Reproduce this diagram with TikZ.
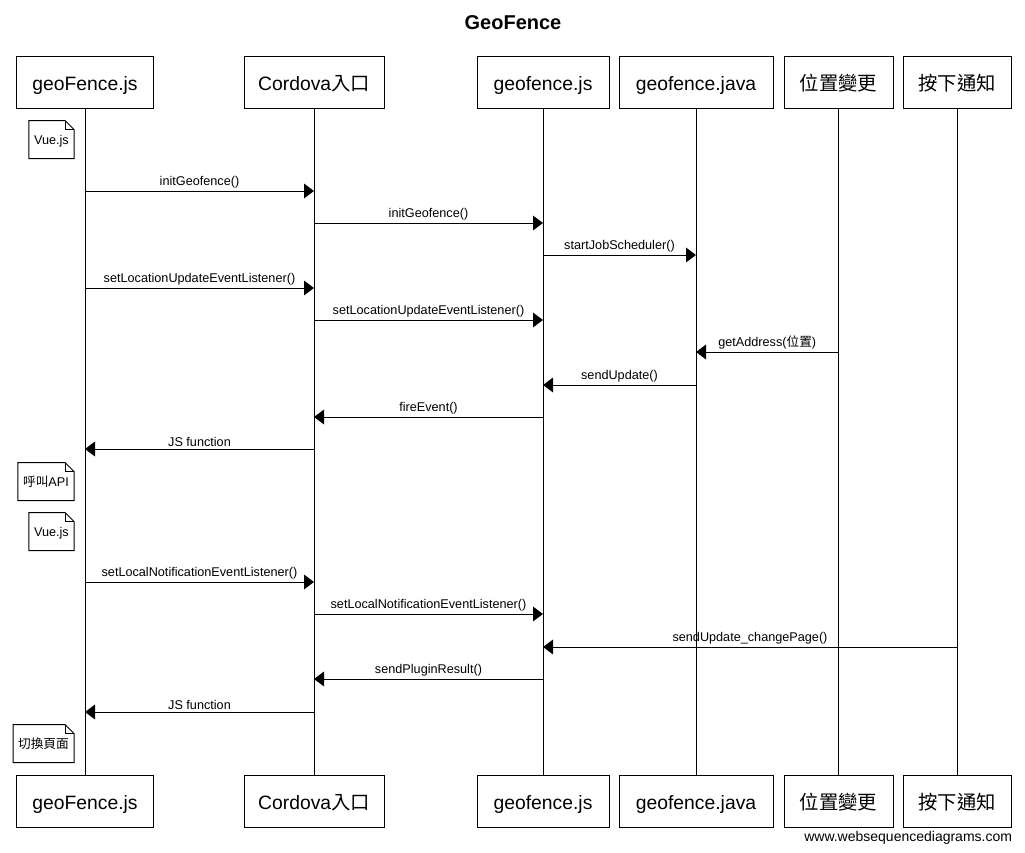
\documentclass[tikz,border=0pt]{standalone}
\usepackage{fontspec}
\setmainfont{Liberation Sans}
\newfontfamily\cjk{Noto Sans CJK TC}
\usetikzlibrary{arrows.meta}

\tikzset{
  actor/.style={draw, minimum height=39pt, inner sep=0pt, text height=12pt, text depth=0pt,
    font=\fontsize{14.5}{16}\selectfont},
  msg/.style={-{Triangle[length=7.5pt, width=11pt]}},
  lbl/.style={above, inner sep=1.5pt, font=\fontsize{9.5}{11}\selectfont},
  notebox/.style={anchor=east, minimum height=27.75pt, inner xsep=3.5pt, text height=6.8pt, text depth=0pt,
    font=\fontsize{9.5}{11}\selectfont},
}

% folded corner of a note
\newcommand\notefold[1]{
  \draw (#1.north west) -- ([xshift=-6.75pt]#1.north east) -- ([yshift=-6.75pt]#1.north east)
    -- (#1.south east) -- (#1.south west) -- cycle;
  \draw ([xshift=-6.75pt]#1.north east) |- ([yshift=-6.75pt]#1.north east);
}

\begin{document}
\begin{tikzpicture}[x=0.75pt, y=-0.75pt, line width=0.75pt]
    \useasboundingbox[fill=white] (0,0) rectangle (1025,853);

    \node[font=\bfseries\fontsize{15}{18}\selectfont] (title) at (513,23) {GeoFence};

    % participants, top and bottom, with lifelines
    \foreach \n/\x/\w/\txt in {vue/85/137/geoFence.js, cdv/314/140/{Cordova{\cjk 入口}},
        gfjs/543/132/geofence.js, gfjava/696/154/geofence.java,
        loc/838.5/109/{{\cjk 位置變更}}, notify/957/108/{{\cjk 按下通知}}} {
        \node[actor, minimum width=\w*0.75pt] (\n) at (\x,82) {\txt};
        \node[actor, minimum width=\w*0.75pt] (\n2) at (\x,801.5) {\txt};
        \draw (\n) -- (\n2);
    }

    % notes
    \node[notebox] (n1) at (74,139.5) {Vue.js};
    \node[notebox] (n2) at (74,481.5) {{\cjk 呼叫}API};
    \node[notebox] (n3) at (74,531.5) {Vue.js};
    \node[notebox] (n4) at (74,743.5) {{\cjk 切換頁面}};
    \notefold{n1}
    \notefold{n2}
    \notefold{n3}
    \notefold{n4}

    % messages
    \foreach \a/\b/\y/\txt in {vue/cdv/191/initGeofence(), cdv/gfjs/223/initGeofence(),
        gfjs/gfjava/255/startJobScheduler(),
        vue/cdv/288/setLocationUpdateEventListener(), cdv/gfjs/320/setLocationUpdateEventListener(),
        loc/gfjava/352/{getAddress({\cjk 位置})}, gfjava/gfjs/385/sendUpdate(),
        gfjs/cdv/417/fireEvent(), cdv/vue/449/JS function,
        vue/cdv/582/setLocalNotificationEventListener(), cdv/gfjs/614/setLocalNotificationEventListener(),
        notify/gfjs/647/sendUpdate\_changePage(), gfjs/cdv/679/sendPluginResult(),
        cdv/vue/712/JS function}
        \draw[msg] (\a |- 0,\y) -- node[lbl] {\txt} (\b |- 0,\y);

    \node[anchor=east, font=\fontsize{10.5}{12}\selectfont] (wsd) at (1017,838) {www.websequencediagrams.com};
\end{tikzpicture}
\end{document}
